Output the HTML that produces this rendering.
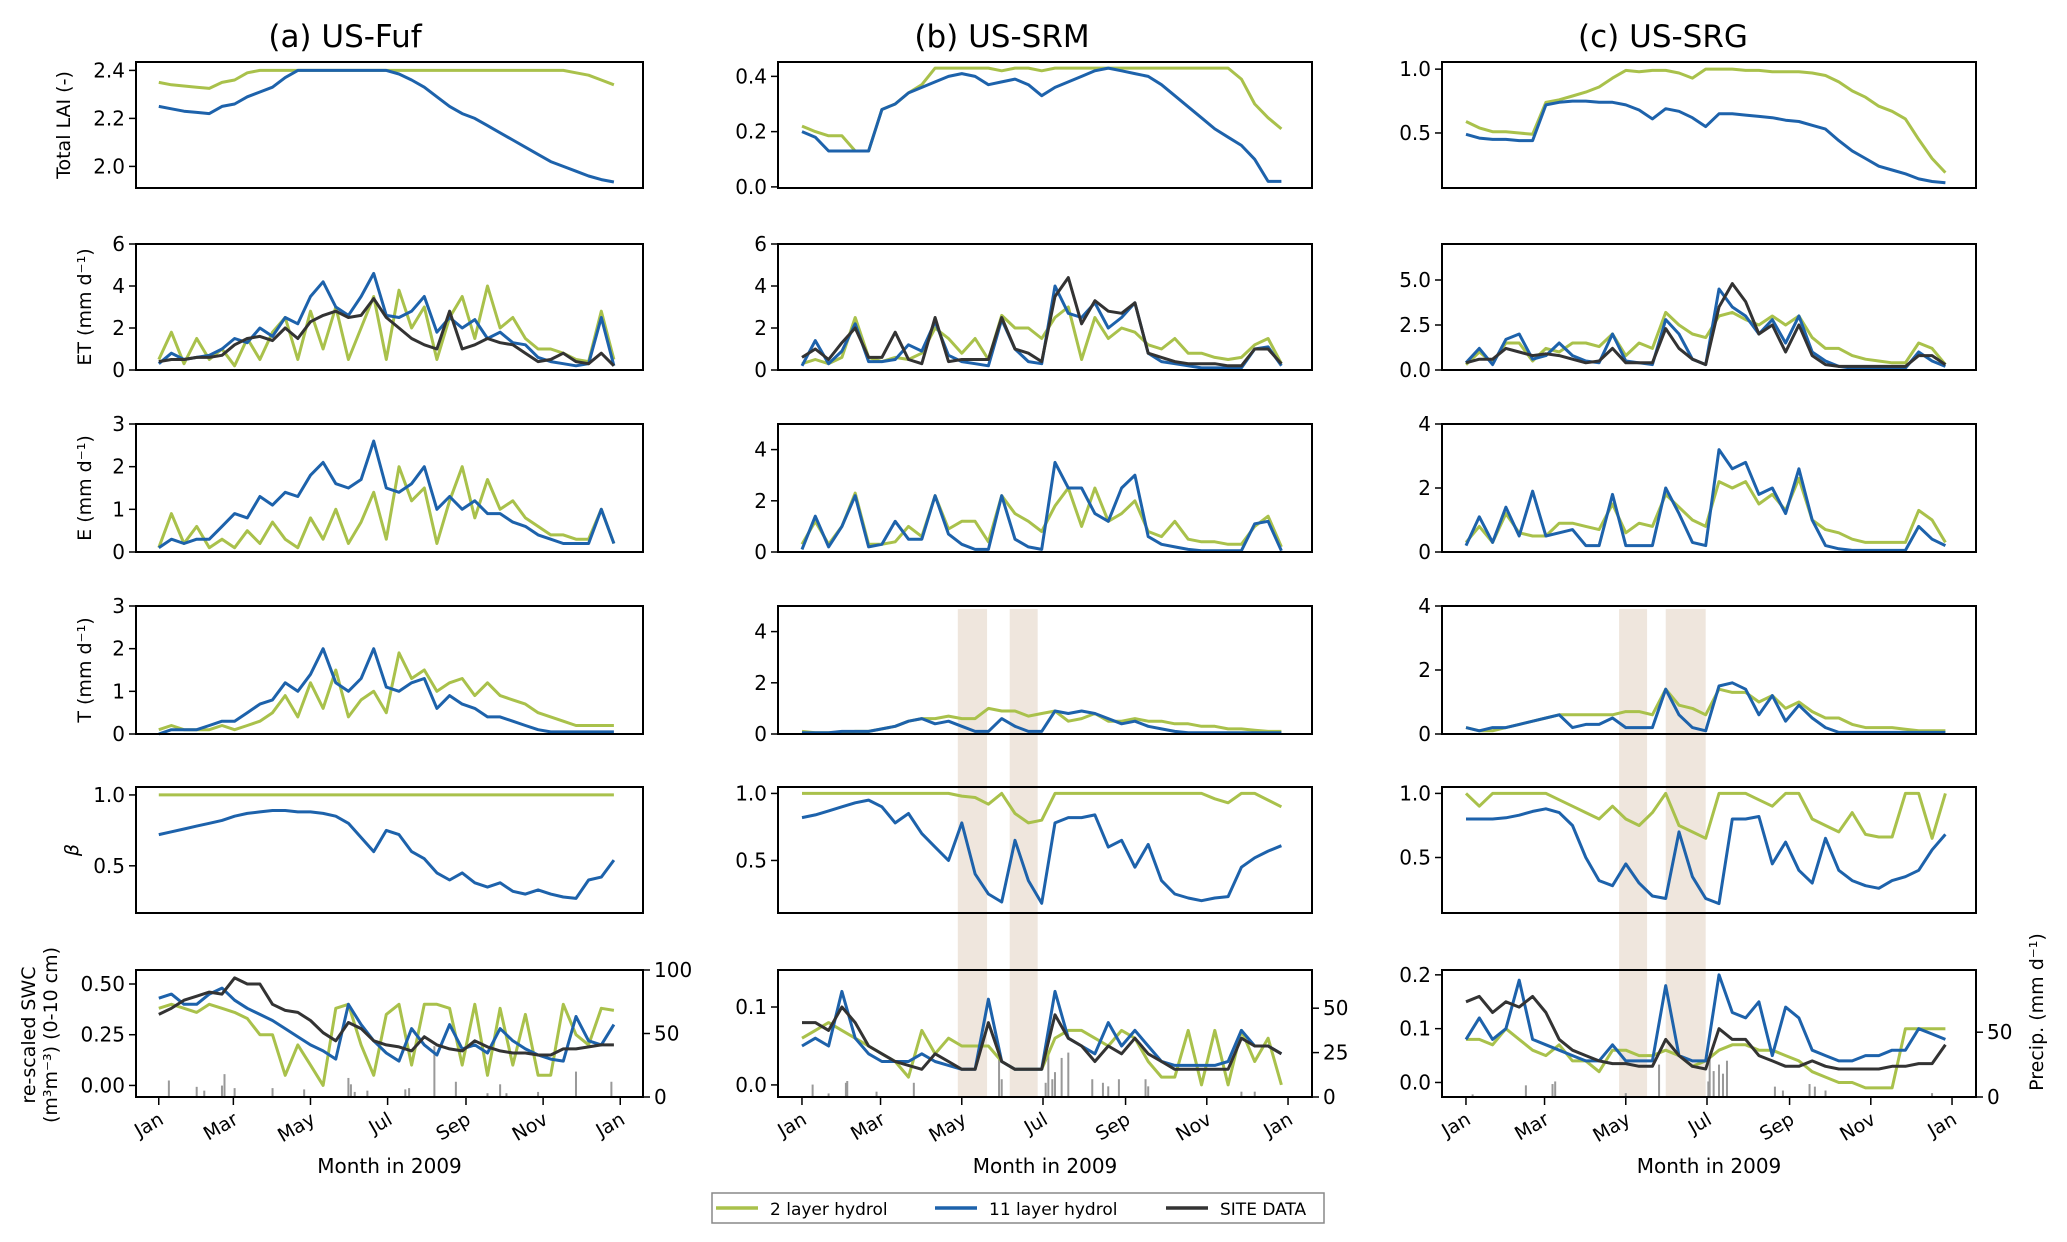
<!DOCTYPE html>
<html><head><meta charset="utf-8">
<style>
body{margin:0;background:#fff;}
svg{display:block;font-family:"DejaVu Sans","Liberation Sans",sans-serif;}
</style></head>
<body>
<svg id="fig" width="2067" height="1242" viewBox="0 0 2067 1242" xmlns="http://www.w3.org/2000/svg"></svg>
<script>
// ---------- data (sampled every 10 days, day 0..360) ----------
const days = [0,10,20,30,40,50,60,70,80,90,100,110,120,130,140,150,160,170,180,190,200,210,220,230,240,250,260,270,280,290,300,310,320,330,340,350,360];
const monthTickDays = [0,59,120,181,243,304,365];
const monthLabels = ["Jan","Mar","May","Jul","Sep","Nov","Jan"];
const siteTitles = ["(a) US-Fuf","(b) US-SRM","(c) US-SRG"];

// Column a: US-Fuf
const laiA_2 = [2.35,2.34,2.335,2.33,2.325,2.35,2.36,2.39,2.40,2.40,2.40,2.40,2.40,2.40,2.40,2.40,2.40,2.40,2.40,2.40,2.40,2.40,2.40,2.40,2.40,2.40,2.40,2.40,2.40,2.40,2.40,2.40,2.40,2.39,2.38,2.36,2.34];
const laiA_11 = [2.25,2.24,2.23,2.225,2.22,2.25,2.26,2.29,2.31,2.33,2.37,2.40,2.40,2.40,2.40,2.40,2.40,2.40,2.40,2.385,2.36,2.33,2.29,2.25,2.22,2.20,2.17,2.14,2.11,2.08,2.05,2.02,2.00,1.98,1.96,1.945,1.935];
const etA_2 = [0.5,1.8,0.3,1.5,0.5,1.0,0.2,1.5,0.5,1.8,2.5,0.5,2.8,1.0,3.0,0.5,2.0,3.5,0.5,3.8,2.0,3.0,0.5,2.5,3.5,1.5,4.0,2.0,2.5,1.5,1.0,1.0,0.8,0.5,0.4,2.8,0.5];
const etA_11 = [0.3,0.8,0.5,0.6,0.7,1.0,1.5,1.3,2.0,1.6,2.5,2.2,3.5,4.2,3.0,2.6,3.5,4.6,2.6,2.5,2.8,3.5,1.8,2.5,2.0,2.4,1.5,1.8,1.3,1.2,0.6,0.4,0.3,0.2,0.3,2.5,0.2];
const etA_site = [0.4,0.5,0.5,0.6,0.6,0.7,1.2,1.5,1.6,1.4,2.0,1.5,2.3,2.6,2.8,2.5,2.6,3.4,2.5,2.0,1.5,1.2,1.0,2.8,1.0,1.2,1.5,1.3,1.2,0.8,0.4,0.5,0.8,0.4,0.3,0.8,0.2];
const eA_2 = [0.1,0.9,0.2,0.6,0.1,0.3,0.1,0.5,0.2,0.7,0.3,0.1,0.8,0.3,1.0,0.2,0.7,1.4,0.3,2.0,1.2,1.5,0.2,1.2,2.0,0.8,1.7,1.0,1.2,0.8,0.6,0.4,0.4,0.3,0.3,1.0,0.2];
const eA_11 = [0.1,0.3,0.2,0.3,0.3,0.6,0.9,0.8,1.3,1.1,1.4,1.3,1.8,2.1,1.6,1.5,1.7,2.6,1.5,1.4,1.6,2.0,1.0,1.3,1.0,1.2,0.9,0.9,0.7,0.6,0.4,0.3,0.2,0.2,0.2,1.0,0.2];
const tA_2 = [0.1,0.2,0.1,0.1,0.1,0.2,0.1,0.2,0.3,0.5,0.9,0.4,1.2,0.6,1.5,0.4,0.8,1.0,0.5,1.9,1.3,1.5,1.0,1.2,1.3,0.9,1.2,0.9,0.8,0.7,0.5,0.4,0.3,0.2,0.2,0.2,0.2];
const tA_11 = [0,0.1,0.1,0.1,0.2,0.3,0.3,0.5,0.7,0.8,1.2,1.0,1.4,2.0,1.2,1.0,1.3,2.0,1.1,1.0,1.2,1.3,0.6,0.9,0.7,0.6,0.4,0.4,0.3,0.2,0.1,0.05,0.05,0.05,0.05,0.05,0.05];
const betaA_2 = [1,1,1,1,1,1,1,1,1,1,1,1,1,1,1,1,1,1,1,1,1,1,1,1,1,1,1,1,1,1,1,1,1,1,1,1,1];
const betaA_11 = [0.72,0.74,0.76,0.78,0.80,0.82,0.85,0.87,0.88,0.89,0.89,0.88,0.88,0.87,0.85,0.80,0.70,0.60,0.75,0.72,0.60,0.55,0.45,0.40,0.45,0.38,0.35,0.38,0.32,0.30,0.33,0.30,0.28,0.27,0.40,0.42,0.54];
const swcA_2 = [0.38,0.40,0.38,0.36,0.40,0.38,0.36,0.33,0.25,0.25,0.05,0.20,0.10,0.00,0.38,0.40,0.20,0.05,0.35,0.40,0.10,0.40,0.40,0.38,0.10,0.40,0.05,0.38,0.10,0.35,0.05,0.05,0.40,0.25,0.20,0.38,0.37];
const swcA_11 = [0.43,0.45,0.40,0.40,0.45,0.48,0.42,0.38,0.35,0.32,0.28,0.24,0.20,0.17,0.13,0.40,0.30,0.22,0.16,0.12,0.28,0.20,0.15,0.30,0.18,0.20,0.16,0.28,0.22,0.18,0.15,0.13,0.12,0.34,0.22,0.20,0.30];
const swcA_site = [0.35,0.38,0.42,0.44,0.46,0.45,0.53,0.50,0.50,0.40,0.37,0.36,0.32,0.26,0.22,0.31,0.28,0.22,0.20,0.19,0.17,0.24,0.20,0.18,0.17,0.22,0.19,0.17,0.16,0.16,0.15,0.15,0.18,0.18,0.19,0.20,0.20];
const precipA_day = [8,30,36,50,52,60,90,115,150,152,155,165,195,198,218,235,260,270,275,300,330,358];
const precipA_mm = [13,8,5,9,18,7,7,6,15,10,4,5,6,7,40,12,3,10,3,4,20,12];

// Column b: US-SRM
const laiB_2 = [0.22,0.20,0.185,0.185,0.13,0.13,0.28,0.30,0.34,0.37,0.43,0.43,0.43,0.43,0.43,0.42,0.43,0.43,0.42,0.43,0.43,0.43,0.43,0.43,0.43,0.43,0.43,0.43,0.43,0.43,0.43,0.43,0.43,0.39,0.30,0.25,0.21];
const laiB_11 = [0.20,0.18,0.13,0.13,0.13,0.13,0.28,0.30,0.34,0.36,0.38,0.40,0.41,0.40,0.37,0.38,0.39,0.37,0.33,0.36,0.38,0.40,0.42,0.43,0.42,0.41,0.40,0.37,0.33,0.29,0.25,0.21,0.18,0.15,0.10,0.02,0.02];
const etB_2 = [0.3,0.5,0.3,0.6,2.5,0.6,0.4,0.6,0.5,0.8,2.0,1.5,0.8,1.5,0.5,2.6,2.0,2.0,1.5,2.5,3.0,0.5,2.5,1.5,2.0,1.8,1.2,1.0,1.5,0.8,0.8,0.6,0.5,0.6,1.2,1.5,0.3];
const etB_11 = [0.2,1.4,0.3,0.9,2.2,0.4,0.4,0.5,1.2,0.9,2.3,0.7,0.4,0.3,0.2,2.4,1.0,0.4,0.3,4.0,2.7,2.5,3.2,2.0,2.5,3.2,0.8,0.4,0.3,0.2,0.1,0.1,0.1,0.1,1.0,1.1,0.2];
const etB_site = [0.6,1.0,0.5,1.3,2.0,0.6,0.6,1.8,0.5,0.3,2.5,0.4,0.5,0.5,0.5,2.5,1.0,0.8,0.4,3.5,4.4,2.2,3.3,2.8,2.7,3.2,0.8,0.6,0.4,0.3,0.3,0.3,0.2,0.2,1.0,1.0,0.3];
const eB_2 = [0.3,1.2,0.3,1.0,2.3,0.3,0.3,0.4,1.0,0.6,2.2,0.9,1.2,1.2,0.4,2.2,1.5,1.2,0.8,1.8,2.5,1.0,2.5,1.2,1.5,2.0,0.8,0.6,1.2,0.5,0.4,0.4,0.3,0.3,1.0,1.4,0.2];
const eB_11 = [0.1,1.4,0.2,1.0,2.2,0.2,0.3,1.2,0.5,0.5,2.2,0.7,0.3,0.1,0.1,2.2,0.5,0.2,0.1,3.5,2.5,2.5,1.5,1.2,2.5,3.0,0.6,0.3,0.2,0.1,0.05,0.05,0.05,0.05,1.1,1.2,0.05];
const tB_2 = [0.1,0.05,0.05,0.05,0.1,0.1,0.2,0.3,0.5,0.6,0.6,0.7,0.6,0.6,1.0,0.9,0.9,0.7,0.8,0.9,0.5,0.6,0.8,0.5,0.5,0.6,0.5,0.5,0.4,0.4,0.3,0.3,0.2,0.2,0.15,0.1,0.1];
const tB_11 = [0.05,0.05,0.05,0.1,0.1,0.1,0.2,0.3,0.5,0.6,0.4,0.5,0.3,0.1,0.1,0.6,0.3,0.1,0.1,0.9,0.8,0.9,0.8,0.6,0.4,0.5,0.3,0.2,0.1,0.05,0.05,0.05,0.05,0.05,0.05,0.05,0.05];
const betaB_2 = [1,1,1,1,1,1,1,1,1,1,1,1,0.98,0.97,0.92,1.0,0.85,0.78,0.80,1,1,1,1,1,1,1,1,1,1,1,1,0.96,0.93,1.0,1.0,0.95,0.90];
const betaB_11 = [0.82,0.84,0.87,0.90,0.93,0.95,0.90,0.78,0.85,0.70,0.60,0.50,0.78,0.40,0.25,0.19,0.65,0.35,0.18,0.78,0.82,0.82,0.84,0.60,0.65,0.45,0.62,0.35,0.25,0.22,0.20,0.22,0.23,0.45,0.52,0.57,0.61];
const swcB_2 = [0.06,0.07,0.08,0.07,0.06,0.05,0.04,0.03,0.01,0.07,0.04,0.06,0.05,0.05,0.05,0.03,0.02,0.02,0.02,0.06,0.07,0.07,0.06,0.05,0.07,0.06,0.03,0.01,0.01,0.07,0.00,0.07,0.00,0.07,0.03,0.06,0.00];
const swcB_11 = [0.05,0.06,0.05,0.12,0.06,0.04,0.03,0.03,0.03,0.04,0.03,0.025,0.02,0.02,0.11,0.03,0.02,0.02,0.02,0.12,0.06,0.05,0.04,0.08,0.05,0.07,0.05,0.03,0.025,0.025,0.025,0.025,0.03,0.07,0.05,0.05,0.04];
const swcB_site = [0.08,0.08,0.07,0.10,0.08,0.05,0.04,0.03,0.025,0.02,0.04,0.03,0.02,0.02,0.08,0.03,0.02,0.02,0.02,0.09,0.06,0.05,0.03,0.05,0.04,0.06,0.04,0.03,0.02,0.02,0.02,0.02,0.02,0.06,0.05,0.05,0.04];
const precipB_day = [8,20,33,34,56,84,148,150,183,185,188,190,195,200,218,226,230,238,258,260,330,340];
const precipB_mm = [7,2,8,9,3,8,22,10,8,24,10,14,22,25,10,8,6,10,10,6,3,3];

// Column c: US-SRG
const laiC_2 = [0.59,0.54,0.51,0.51,0.50,0.49,0.74,0.76,0.79,0.82,0.86,0.93,0.99,0.98,0.99,0.99,0.97,0.93,1.00,1.00,1.00,0.99,0.99,0.98,0.98,0.98,0.97,0.95,0.90,0.83,0.78,0.71,0.67,0.61,0.45,0.30,0.19];
const laiC_11 = [0.49,0.46,0.45,0.45,0.44,0.44,0.72,0.74,0.75,0.75,0.74,0.74,0.72,0.68,0.61,0.69,0.67,0.62,0.55,0.65,0.65,0.64,0.63,0.62,0.60,0.59,0.56,0.53,0.44,0.36,0.30,0.24,0.21,0.18,0.14,0.12,0.11];
const etC_2 = [0.3,1.0,0.4,1.5,1.5,0.5,1.2,1.0,1.5,1.5,1.3,2.0,0.8,1.5,1.2,3.2,2.5,2.0,1.8,3.0,3.2,2.8,2.5,3.0,2.5,3.0,1.8,1.2,1.2,0.8,0.6,0.5,0.4,0.4,1.5,1.2,0.3];
const etC_11 = [0.4,1.2,0.3,1.7,2.0,0.6,0.8,1.5,0.8,0.5,0.4,2.0,0.5,0.4,0.3,2.8,2.0,0.6,0.3,4.5,3.5,3.0,2.0,2.8,1.5,3.0,1.0,0.5,0.2,0.1,0.1,0.1,0.1,0.1,1.0,0.5,0.2];
const etC_site = [0.4,0.6,0.6,1.2,1.0,0.8,0.9,0.8,0.6,0.4,0.5,1.2,0.4,0.4,0.4,2.3,1.2,0.6,0.3,3.5,4.8,3.8,2.0,2.5,1.0,2.5,0.8,0.3,0.2,0.2,0.2,0.2,0.2,0.2,0.8,0.8,0.3];
const eC_2 = [0.3,0.8,0.3,1.2,0.6,0.5,0.5,0.9,0.9,0.8,0.7,1.5,0.6,0.9,0.8,1.8,1.4,1.0,0.8,2.2,2.0,2.2,1.5,1.8,1.3,2.3,1.0,0.7,0.6,0.4,0.3,0.3,0.3,0.3,1.3,1.0,0.3];
const eC_11 = [0.2,1.1,0.3,1.4,0.5,1.9,0.5,0.6,0.7,0.2,0.2,1.8,0.2,0.2,0.2,2.0,1.2,0.3,0.2,3.2,2.6,2.8,1.8,2.0,1.2,2.6,1.0,0.2,0.1,0.05,0.05,0.05,0.05,0.05,0.8,0.4,0.2];
const tC_2 = [0.2,0.1,0.1,0.2,0.3,0.4,0.5,0.6,0.6,0.6,0.6,0.6,0.7,0.7,0.6,1.4,0.9,0.8,0.6,1.4,1.3,1.3,1.0,1.2,0.8,1.0,0.7,0.5,0.5,0.3,0.2,0.2,0.2,0.15,0.1,0.1,0.1];
const tC_11 = [0.2,0.1,0.2,0.2,0.3,0.4,0.5,0.6,0.2,0.3,0.3,0.5,0.2,0.2,0.2,1.4,0.6,0.2,0.1,1.5,1.6,1.4,0.6,1.2,0.4,0.9,0.5,0.2,0.05,0.05,0.05,0.05,0.05,0.05,0.05,0.05,0.05];
const betaC_2 = [1,0.9,1,1,1,1,1,0.95,0.9,0.85,0.8,0.9,0.8,0.75,0.85,1.0,0.75,0.70,0.65,1.0,1.0,1.0,0.95,0.90,1.0,1.0,0.80,0.75,0.70,0.85,0.68,0.66,0.66,1.0,1.0,0.65,1.0];
const betaC_11 = [0.80,0.80,0.80,0.81,0.83,0.86,0.88,0.85,0.75,0.50,0.32,0.28,0.45,0.30,0.20,0.18,0.70,0.35,0.18,0.14,0.80,0.80,0.82,0.45,0.62,0.40,0.30,0.65,0.40,0.32,0.28,0.26,0.32,0.35,0.40,0.56,0.68];
const swcC_2 = [0.08,0.08,0.07,0.10,0.08,0.06,0.05,0.07,0.04,0.04,0.02,0.06,0.06,0.05,0.05,0.06,0.05,0.03,0.04,0.06,0.07,0.07,0.06,0.06,0.05,0.04,0.02,0.01,0.00,0.00,-0.01,-0.01,-0.01,0.10,0.10,0.10,0.10];
const swcC_11 = [0.08,0.12,0.08,0.10,0.19,0.08,0.07,0.06,0.05,0.04,0.04,0.07,0.04,0.04,0.04,0.18,0.05,0.04,0.04,0.20,0.13,0.12,0.15,0.05,0.14,0.12,0.06,0.05,0.04,0.04,0.05,0.05,0.06,0.06,0.10,0.09,0.08];
const swcC_site = [0.15,0.16,0.13,0.15,0.14,0.16,0.13,0.08,0.06,0.05,0.04,0.035,0.035,0.03,0.03,0.08,0.05,0.03,0.025,0.10,0.08,0.08,0.05,0.04,0.03,0.03,0.04,0.03,0.025,0.025,0.025,0.025,0.03,0.03,0.035,0.035,0.07];
const precipC_day = [5,45,65,67,120,145,182,183,186,190,193,196,232,238,258,262,270,350];
const precipC_mm = [2,9,10,12,3,25,12,29,20,25,18,28,8,5,10,8,5,3];

// dry-period shading (days)
const shadeB_start = [117,156], shadeB_end = [139,177];
const shadeC_start = [115,150], shadeC_end = [136,180];

// ---------- layout ----------
const NS="http://www.w3.org/2000/svg";
const svg=document.getElementById('fig');
const GREEN="#a9c14b", BLUE="#1d62ab", BLACK="#333333";
const colX=[[136,643],[778,1312],[1442,1976]];
const rowY=[[62,188],[244,370],[424,552],[606,734],[787,913],[970,1097]];
const XMIN=-18, XMAX=383;
function el(tag,attrs,parent){const e=document.createElementNS(NS,tag);for(const k in attrs)e.setAttribute(k,attrs[k]);(parent||svg).appendChild(e);return e;}
function xs(c,d){const [a,b]=colX[c];return a+(d-XMIN)/(XMAX-XMIN)*(b-a);}
function ys(r,lim,v){const [t,b]=rowY[r];return b-(v-lim[0])/(lim[1]-lim[0])*(b-t);}

// shading
[[1,shadeB_start,shadeB_end],[2,shadeC_start,shadeC_end]].forEach(([c,s,e])=>{
  s.forEach((d,i)=>{
    const r=el('rect',{x:xs(c,d),y:rowY[3][0]+3,width:xs(c,e[i])-xs(c,d),height:rowY[5][1]-rowY[3][0]-3,fill:'#efe6dd'});
    
    
  });
});

const cols=[
 {lai:[laiA_2,laiA_11],laiLim:[1.91,2.435],laiTicks:[2.0,2.2,2.4],laiFmt:1,
  et:[etA_2,etA_11,etA_site],etLim:[0,6],etTicks:[0,2,4,6],etFmt:0,
  e:[eA_2,eA_11],eLim:[0,3],eTicks:[0,1,2,3],t:[tA_2,tA_11],tLim:[0,3],tTicks:[0,1,2,3],
  beta:[betaA_2,betaA_11],betaLim:[0.167,1.056],
  swc:[swcA_2,swcA_11,swcA_site],swcLim:[-0.057,0.569],swcTicks:[0,0.25,0.5],swcFmt:2,
  pDay:precipA_day,pMm:precipA_mm,pLim:[0,100],pTicks:[0,50,100]},
 {lai:[laiB_2,laiB_11],laiLim:[-0.004,0.452],laiTicks:[0,0.2,0.4],laiFmt:1,
  et:[etB_2,etB_11,etB_site],etLim:[0,6],etTicks:[0,2,4,6],etFmt:0,
  e:[eB_2,eB_11],eLim:[0,5],eTicks:[0,2,4],t:[tB_2,tB_11],tLim:[0,5],tTicks:[0,2,4],
  beta:[betaB_2,betaB_11],betaLim:[0.108,1.048],
  swc:[swcB_2,swcB_11,swcB_site],swcLim:[-0.0155,0.1475],swcTicks:[0,0.1],swcFmt:1,
  pDay:precipB_day,pMm:precipB_mm,pLim:[0,71.5],pTicks:[0,25,50]},
 {lai:[laiC_2,laiC_11],laiLim:[0.069,1.056],laiTicks:[0.5,1.0],laiFmt:1,
  et:[etC_2,etC_11,etC_site],etLim:[0,7],etTicks:[0,2.5,5],etFmt:1,
  e:[eC_2,eC_11],eLim:[0,4],eTicks:[0,2,4],t:[tC_2,tC_11],tLim:[0,4],tTicks:[0,2,4],
  beta:[betaC_2,betaC_11],betaLim:[0.067,1.05],
  swc:[swcC_2,swcC_11,swcC_site],swcLim:[-0.027,0.209],swcTicks:[0,0.1,0.2],swcFmt:1,
  pDay:precipC_day,pMm:precipC_mm,pLim:[0,98],pTicks:[0,50]}
];
const colors=[GREEN,BLUE,BLACK];
const seriesNames=['2-layer','11-layer','site-data'];
const rowNames=['lai','et','e','t','beta','swc'];

function drawLine(c,r,lim,vals,color,name){
  let d='';
  vals.forEach((v,i)=>{d+=(i?'L':'M')+xs(c,days[i]).toFixed(1)+','+ys(r,lim,v).toFixed(1);});
  const p=el('path',{d:d,fill:'none',stroke:color,'stroke-width':3,'stroke-linejoin':'round'});
  
  
}
function yTicks(c,r,lim,ticks,fmt,right){
  const [a,b]=colX[c];
  ticks.forEach(v=>{
    const y=ys(r,lim,v);
    const x=right?b:a;
    el('line',{x1:x,x2:right?x+7:x-7,y1:y,y2:y,stroke:'#000','stroke-width':1.5});
    const t=el('text',{x:right?x+11:x-11,y:y+7,'font-size':20,'text-anchor':right?'start':'end',fill:'#000'});
    t.textContent=v.toFixed(fmt);
    
    
  });
}

cols.forEach((C,c)=>{
  const [xa,xb]=colX[c];
  const panels=[
    [C.lai,C.laiLim,C.laiTicks,C.laiFmt],
    [C.et,C.etLim,C.etTicks,C.etFmt],
    [C.e,C.eLim,C.eTicks,0],
    [C.t,C.tLim,C.tTicks,0],
    [C.beta,C.betaLim,[0.5,1.0],1],
    [C.swc,C.swcLim,C.swcTicks,C.swcFmt]
  ];
  // precip bars (right axis) in bottom panel
  C.pDay.forEach((d,i)=>{
    const x=xs(c,d), y0=rowY[5][1], y1=ys(5,C.pLim,C.pMm[i]);
    const b=el('rect',{x:x-1,y:y1,width:2,height:y0-y1,fill:'#999'});
    
    
  });
  panels.forEach((P,r)=>{
    P[0].forEach((vals,k)=>drawLine(c,r,P[1],vals,colors[k],rowNames[r]+'-'+seriesNames[k]+'-line'));
    const fr=el('rect',{x:xa,y:rowY[r][0],width:xb-xa,height:rowY[r][1]-rowY[r][0],fill:'none',stroke:'#000','stroke-width':2});
    
    
    yTicks(c,r,P[1],P[2],P[3],false);
  });
  yTicks(c,5,C.pLim,C.pTicks,0,true);
  // month ticks
  monthTickDays.forEach((d,i)=>{
    const x=xs(c,d), y=rowY[5][1];
    el('line',{x1:x,x2:x,y1:y,y2:y+8,stroke:'#000','stroke-width':1.5});
    const t=el('text',{x:x+6,y:y+26,'font-size':19,'text-anchor':'end',transform:`rotate(-30 ${x+6} ${y+26})`});
    t.textContent=monthLabels[i];
    
    
  });
  const xl=el('text',{x:(xa+xb)/2,y:1173,'font-size':20,'text-anchor':'middle'});
  xl.textContent='Month in 2009';
  
  
  const tt=el('text',{x:[345,1002,1663][c],y:47,'font-size':31,'text-anchor':'middle'});
  tt.textContent=siteTitles[c];
  
  
});

// y-axis titles (column a)
const yTitles=[["Total LAI (-)",70,125],["ET (mm d⁻¹)",91,307],["E (mm d⁻¹)",91,488],["T (mm d⁻¹)",91,670],["β",78,850]];
yTitles.forEach(([s,x,y])=>{
  const t=el('text',{x:x,y:y,'font-size':19,'text-anchor':'middle',transform:`rotate(-90 ${x} ${y})`,'font-style':s==='β'?'italic':'normal'});
  t.textContent=s;
  
  
});
[["re-scaled SWC",35],["(m³m⁻³) (0-10 cm)",57]].forEach(([s,x])=>{
  const t=el('text',{x:x,y:1035,'font-size':19,'text-anchor':'middle',transform:`rotate(-90 ${x} 1035)`});
  t.textContent=s;
  
  
});
const pt=el('text',{x:2043,y:1012,'font-size':19,'text-anchor':'middle',transform:'rotate(-90 2043 1012)'});
pt.textContent='Precip. (mm d⁻¹)';



// legend
const lg=el('g',{});


el('rect',{x:712,y:1193,width:612,height:30,fill:'#fff',stroke:'#888','stroke-width':1.5},lg);
[["2 layer hydrol",GREEN,716],["11 layer hydrol",BLUE,935],["SITE DATA",BLACK,1166]].forEach(([s,col,x])=>{
  el('line',{x1:x,x2:x+42,y1:1208,y2:1208,stroke:col,'stroke-width':3.5},lg);
  const t=el('text',{x:x+54,y:1215,'font-size':17},lg);
  t.textContent=s;
  
  
});
</script>
</body></html>
